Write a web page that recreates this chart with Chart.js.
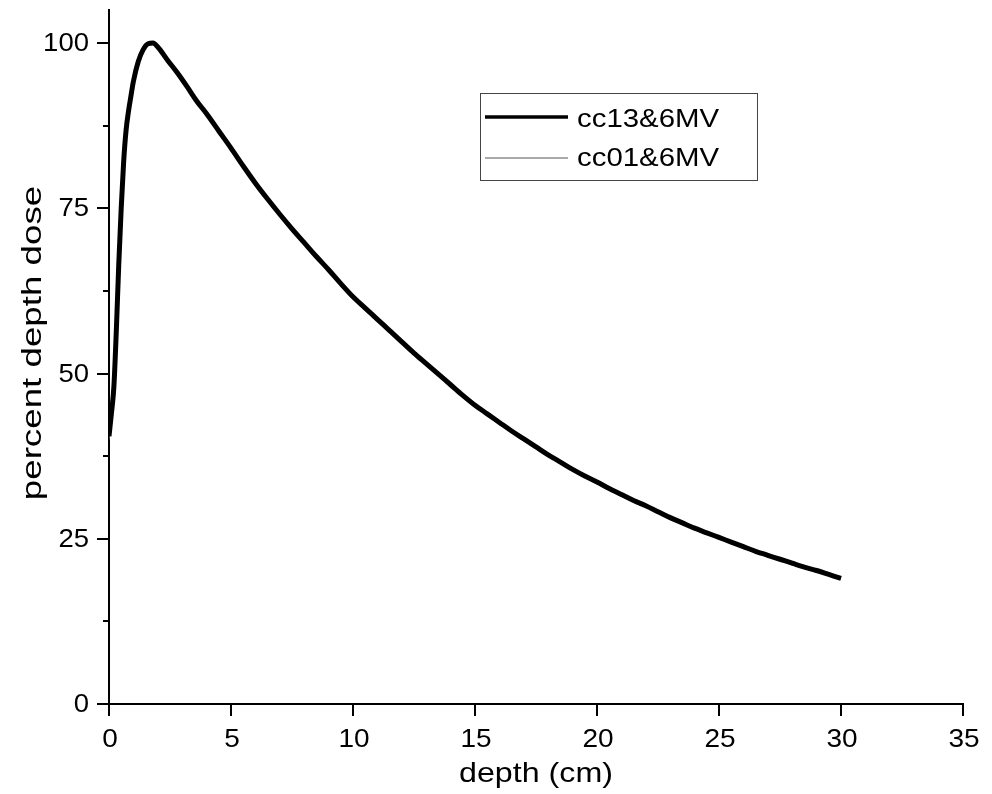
<!DOCTYPE html>
<html>
<head>
<meta charset="utf-8">
<title>percent depth dose</title>
<script src="https://cdn.jsdelivr.net/npm/chart.js@4/dist/chart.umd.min.js"></script>
<style>
  html, body { margin: 0; background: #fff; }
  #wrap { width: 992px; height: 794px; }
</style>
</head>
<body>
<div id="wrap"><canvas id="pdd"></canvas></div>
<script>
/* Percent depth dose, 6MV, two chambers */
const depth = [0, 0.1, 0.2, 0.3, 0.4, 0.5, 0.6, 0.7, 0.8, 0.9, 1.0,
  1.2, 1.4, 1.6, 1.8, 2.0, 2.4, 2.8, 3.2, 3.6, 4.0,
  4.5, 5, 5.5, 6, 6.5, 7, 7.5, 8, 8.5, 9, 9.5, 10, 10.5, 11, 11.5, 12, 12.5, 13, 13.5, 14, 14.5,
  15, 15.5, 16, 16.5, 17, 17.5, 18, 18.5, 19, 19.5, 20, 20.5, 21, 21.5, 22, 22.5, 23, 23.5, 24, 24.5,
  25, 25.5, 26, 26.5, 27, 27.5, 28, 28.5, 29, 29.5, 30];

const cc13 = [40.5, 44, 48, 56.5, 66.5, 75, 82, 86.8, 89.7, 92, 94.2,
  97.2, 99.0, 99.9, 100, 99.4, 97.4, 95.5, 93.4, 91.2, 89.3,
  86.7, 84.1, 81.4, 78.8, 76.4, 74.1, 71.9, 69.8, 67.7, 65.7, 63.6, 61.6, 59.9, 58.2, 56.5, 54.8, 53.1, 51.5, 49.9, 48.3, 46.7,
  45.2, 43.9, 42.6, 41.3, 40.1, 38.9, 37.7, 36.6, 35.5, 34.5, 33.6, 32.6, 31.7, 30.8, 30.0, 29.1, 28.2, 27.4, 26.6, 25.9,
  25.2, 24.5, 23.8, 23.1, 22.5, 21.9, 21.3, 20.7, 20.2, 19.6, 19.0];

const cc01 = [40.0, 44.5, 48.5, 57, 67, 75.5, 82.3, 87, 89.9, 92.2, 94.4,
  97.3, 99.2, 100, 99.8, 99.2, 97.0, 95.7, 93.0, 91.4, 89.0,
  86.9, 83.8, 81.6, 78.5, 76.6, 73.8, 72.1, 69.5, 67.9, 65.4, 63.8, 61.3, 60.1, 57.9, 56.7, 54.5, 53.3, 51.2, 50.1, 48.0, 46.9,
  45.0, 44.1, 42.3, 41.5, 39.8, 39.1, 37.4, 36.8, 35.2, 34.7, 33.3, 32.8, 31.4, 31.0, 29.7, 29.3, 27.9, 27.6, 26.3, 26.1,
  24.9, 24.7, 23.5, 23.3, 22.2, 22.1, 21.0, 20.9, 19.9, 19.8, 18.9];

const xTicks = [0, 5, 10, 15, 20, 25, 30, 35];
const yTicks = [0, 12.5, 25, 37.5, 50, 62.5, 75, 87.5, 100];
const yLabels = [0, 25, 50, 75, 100];

const FONT = '"Liberation Sans", Arial, sans-serif';

// the reference type is set a bit wider than Arial, so stretch it horizontally
function text(ctx, str, x, y, align, size, sx) {
  ctx.save();
  ctx.font = `${size}px ${FONT}`;
  ctx.textAlign = align;
  ctx.textBaseline = 'alphabetic';
  ctx.translate(x, y);
  ctx.scale(sx, 1);
  ctx.fillText(str, 0, 0);
  ctx.restore();
}

// tick marks, tick labels, axis titles and the boxed legend
const frame = {
  id: 'frame',
  afterDraw(chart) {
    const { ctx, scales: { x, y } } = chart;
    ctx.save();
    ctx.strokeStyle = '#000';
    ctx.fillStyle = '#000';
    ctx.lineWidth = 2;
    ctx.beginPath();
    xTicks.forEach((v) => {
      const px = Math.round(x.getPixelForValue(v));
      ctx.moveTo(px, y.bottom); ctx.lineTo(px, y.bottom + 12);
    });
    yTicks.forEach((v) => {
      const py = Math.round(y.getPixelForValue(v));
      const len = yLabels.includes(v) ? 12 : 6;
      ctx.moveTo(x.left, py); ctx.lineTo(x.left - len, py);
    });
    ctx.stroke();

    xTicks.forEach((v) => text(ctx, String(v), x.getPixelForValue(v) + 1, 747, 'center', 25, 1.12));
    yLabels.forEach((v) => text(ctx, String(v), 89, y.getPixelForValue(v) + 8, 'right', 25, 1.1));

    text(ctx, 'depth (cm)', (x.left + x.right) / 2, 782, 'center', 28, 1.15);
    ctx.translate(41, 343);
    ctx.rotate(-Math.PI / 2);
    text(ctx, 'percent depth dose', 0, 0, 'center', 27, 1.36);
    ctx.restore();

    // legend
    ctx.save();
    ctx.strokeStyle = '#444';
    ctx.lineWidth = 1;
    ctx.strokeRect(480.5, 93.5, 277, 87);
    ctx.fillStyle = '#000';
    chart.data.datasets.forEach((ds, i) => {
      const ly = 117 + i * 41;
      ctx.strokeStyle = ds.borderColor;
      ctx.lineWidth = i === 0 ? 3.5 : 1;
      ctx.beginPath(); ctx.moveTo(485, ly); ctx.lineTo(568, ly); ctx.stroke();
      text(ctx, ds.label, 577, ly + 10 - i * 2, 'left', 26, 1.13);
    });
    ctx.restore();
  },
};

new Chart(document.getElementById('pdd'), {
  type: 'line',
  data: {
    datasets: [
      { label: 'cc13&6MV', data: depth.map((d, i) => ({ x: d, y: cc13[i] })),
        borderColor: '#000', borderWidth: 5, pointRadius: 0, cubicInterpolationMode: 'monotone' },
      { label: 'cc01&6MV', data: depth.map((d, i) => ({ x: d, y: cc01[i] })),
        borderColor: '#555', borderWidth: 1, pointRadius: 0, cubicInterpolationMode: 'monotone' },
    ],
  },
  options: {
    responsive: true,
    maintainAspectRatio: false,
    animation: false,
    layout: { padding: { top: 10, right: 29, left: 0, bottom: 0 } },
    plugins: { legend: { display: false }, tooltip: { enabled: false } },
    scales: {
      x: {
        type: 'linear', min: 0, max: 35,
        afterBuildTicks: (s) => { s.ticks = xTicks.map((v) => ({ value: v })); },
        afterFit: (s) => { s.height = 90; },
        grid: { display: false, drawTicks: false },
        border: { display: true, color: '#000', width: 2 },
        ticks: { display: false },
      },
      y: {
        type: 'linear', min: 0, max: 105,
        afterBuildTicks: (s) => { s.ticks = yTicks.map((v) => ({ value: v })); },
        afterFit: (s) => { s.width = 109; },
        grid: { display: false, drawTicks: false },
        border: { display: true, color: '#000', width: 2 },
        ticks: { display: false },
      },
    },
  },
  plugins: [frame],
});
</script>
</body>
</html>
